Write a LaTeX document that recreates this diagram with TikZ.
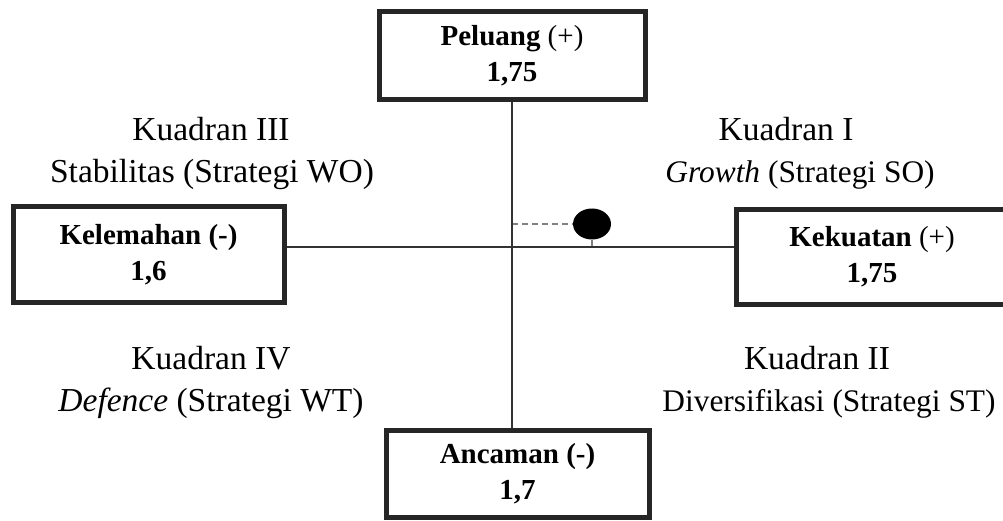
\documentclass[tikz,border=0pt]{standalone}
\usepackage{fontspec}
\setmainfont{Liberation Serif}
\usetikzlibrary{shapes.geometric}
\begin{document}
\begin{tikzpicture}[x=1pt,y=-1pt,
 box/.style={draw=black!85, line width=5pt, rectangle, inner sep=0pt, align=center, font=\fontsize{29}{36}\selectfont},
 quad/.style={anchor=base, inner sep=0pt, font=\fontsize{33.5}{40}\selectfont},
 quadn/.style={quad, font=\fontsize{31.4}{40}\selectfont},
 axis/.style={draw=black!80, line width=2pt},
 guide/.style={draw=gray, line width=1.5pt, dash pattern=on 6pt off 4pt},
 tick/.style={draw=gray, line width=1.5pt}]
\useasboundingbox (0,0) rectangle (1003,521);
\clip (0,0) rectangle (1003,521);
\fill[white] (0,0) rectangle (1003,521);
% boxes
\node[box, minimum width=266pt, minimum height=88pt] (pel) at (512,56) {\textbf{Peluang} (+)\\\textbf{1,75}};
\node[box, minimum width=271pt, minimum height=95pt] (kel) at (148.5,254.5) {\textbf{Kelemahan (-)}\\\textbf{1,6}};
\node[box, minimum width=272pt, minimum height=94pt] (kek) at (872,257) {\textbf{Kekuatan} (+)\\\textbf{1,75}};
\node[box, minimum width=263pt, minimum height=87pt] (anc) at (517.5,473.5) {\textbf{Ancaman (-)}\\\textbf{1,7}};
% origin and point
\coordinate (o) at (512,247);
\node[ellipse, fill=black, minimum width=38pt, minimum height=31pt, inner sep=0pt] (dot) at (592,224) {};
\draw[guide] (o |- dot.center) -- (dot.west);
\draw[guide] (o) -- (o -| dot.south);
\draw[tick] (dot.south) -- (dot.south |- o);
% axes
\draw[axis] (pel.south) -- (pel.south |- anc.north);
\draw[axis] (kel.east |- o) -- (kek.west |- o);
% quadrant labels
\node[quad] (q3a) at (211,141) {Kuadran III};
\node[quad] (q3b) at (212,183) {Stabilitas (Strategi WO)};
\node[quad] (q1a) at (786,141) {Kuadran I};
\node[quadn] (q1b) at (800,183) {\textit{Growth} (Strategi SO)};
\node[quad] (q4a) at (211,369) {Kuadran IV};
\node[quad] (q4b) at (211,411) {\textit{Defence} (Strategi WT)};
\node[quad] (q2a) at (817,369) {Kuadran II};
\node[quadn] (q2b) at (829,411) {Diversifikasi (Strategi ST)};
\end{tikzpicture}
\end{document}
